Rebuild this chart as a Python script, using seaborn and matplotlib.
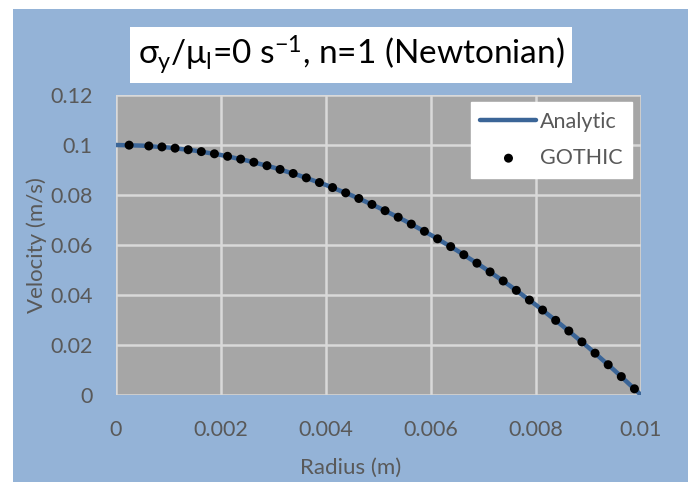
import matplotlib
matplotlib.use("Agg")
import matplotlib.pyplot as plt
from matplotlib.patches import Rectangle
import seaborn as sns
import pandas as pd

# ---- data ----
analytic_r = [0.0, 0.0005, 0.001, 0.0015, 0.002, 0.0025, 0.003, 0.0035, 0.004, 0.0045,
              0.005, 0.0055, 0.006, 0.0065, 0.007, 0.0075, 0.008, 0.0085, 0.009, 0.0095, 0.01]
analytic_v = [0.1, 0.09975, 0.099, 0.09775, 0.096, 0.09375, 0.091, 0.08775, 0.084, 0.07975,
              0.075, 0.06975, 0.064, 0.05775, 0.051, 0.04375, 0.036, 0.02775, 0.019, 0.00975, 0.0]

gothic_r = [0.00025, 0.000625, 0.000875, 0.001125, 0.001375, 0.001625, 0.001875, 0.002125,
            0.002375, 0.002625, 0.002875, 0.003125, 0.003375, 0.003625, 0.003875, 0.004125,
            0.004375, 0.004625, 0.004875, 0.005125, 0.005375, 0.005625, 0.005875, 0.006125,
            0.006375, 0.006625, 0.006875, 0.007125, 0.007375, 0.007625, 0.007875, 0.008125,
            0.008375, 0.008625, 0.008875, 0.009125, 0.009375, 0.009625, 0.009875]
gothic_v = [0.09994, 0.09961, 0.09923, 0.09873, 0.09811, 0.09736, 0.09648, 0.09548,
            0.09436, 0.09311, 0.09173, 0.09023, 0.08861, 0.08686, 0.08498, 0.08298,
            0.08086, 0.07861, 0.07623, 0.07373, 0.07111, 0.06836, 0.06548, 0.06248,
            0.05936, 0.05611, 0.05273, 0.04923, 0.04561, 0.04186, 0.03798, 0.03398,
            0.02986, 0.02561, 0.02123, 0.01673, 0.01211, 0.00736, 0.00248]

x_ticks = [0, 0.002, 0.004, 0.006, 0.008, 0.01]
x_tick_labels = ["0", "0.002", "0.004", "0.006", "0.008", "0.01"]
y_ticks = [0, 0.02, 0.04, 0.06, 0.08, 0.1, 0.12]
y_tick_labels = ["0", "0.02", "0.04", "0.06", "0.08", "0.1", "0.12"]

title = r"$\sigma_\mathregular{y}/\mu_\mathregular{l}$=0 s$^\mathregular{-1}$, n=1 (Newtonian)"

sns.set_theme(style="white")
plt.rcParams["font.family"] = ["Lato", "DejaVu Sans"]
plt.rcParams["mathtext.fontset"] = "custom"
plt.rcParams["mathtext.rm"] = "Lato"
plt.rcParams["mathtext.it"] = "Lato"

W, H = 691, 482
fig = plt.figure(figsize=(W / 100, H / 100), dpi=100)
fig.patch.set_facecolor("white")
bg = "#94B3D7"
fig.patches.append(Rectangle((13 / W, 0), (688 - 13) / W, (482 - 9) / H,
                             transform=fig.transFigure, facecolor=bg, edgecolor="none", zorder=-5))

ax = fig.add_axes([116 / W, 1 - 395 / H, (641 - 116) / W, (395 - 95) / H])
ax.set_facecolor("#A6A6A6")

df_a = pd.DataFrame({"r": analytic_r, "v": analytic_v})
df_g = pd.DataFrame({"r": gothic_r, "v": gothic_v})
sns.lineplot(data=df_a, x="r", y="v", ax=ax, color="#3B6597", linewidth=3.2,
             label="Analytic", zorder=3)
sns.scatterplot(data=df_g, x="r", y="v", ax=ax, color="black", s=42,
                edgecolor="none", label="GOTHIC", zorder=4)

ax.set_xlim(0, 0.01)
ax.set_ylim(0, 0.12)
ax.set_xticks(x_ticks)
ax.set_xticklabels(x_tick_labels)
ax.set_yticks(y_ticks)
ax.set_yticklabels(y_tick_labels)
ax.grid(True, color="#D9D9D9", linewidth=1.8)
ax.set_axisbelow(True)
for s in ax.spines.values():
    s.set_visible(False)
fs = 15.5
ax.tick_params(axis="both", length=0, labelsize=fs, colors="#595959")
ax.tick_params(axis="x", pad=18)
ax.tick_params(axis="y", pad=17)
ax.set_xlabel("Radius (m)", fontsize=16, color="#595959")
ax.set_ylabel("Velocity (m/s)", fontsize=16, color="#595959")
ax.xaxis.set_label_coords(351 / W, 1 - 468 / H, transform=fig.transFigure)
ax.yaxis.set_label_coords(37 / W, 1 - 245 / H, transform=fig.transFigure)
ax.xaxis.label.set_va("center")
ax.yaxis.label.set_va("center")

leg = ax.legend(loc="upper right", bbox_to_anchor=(632 / W, 1 - 102 / H),
                bbox_transform=fig.transFigure, frameon=True, fancybox=False,
                fontsize=fs, handlelength=2.6, borderpad=0.45, labelspacing=0.75,
                handletextpad=0.15, borderaxespad=0)
leg.get_frame().set_facecolor("white")
leg.get_frame().set_edgecolor("white")
leg.get_frame().set_alpha(1)
for t in leg.get_texts():
    t.set_color("#595959")

fig.text(351 / W, 1 - 55 / H, title, ha="center", va="center", fontsize=24, color="black",
         bbox=dict(boxstyle="square,pad=0.22", facecolor="white", edgecolor="none"))

fig.savefig("out.png", dpi=100)
